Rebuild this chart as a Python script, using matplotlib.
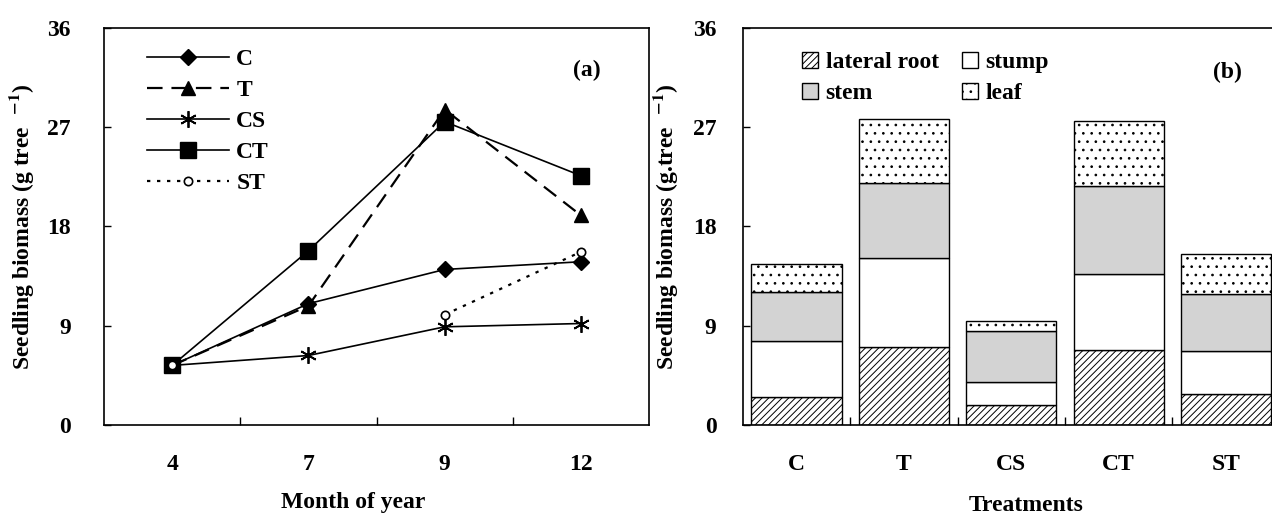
import numpy as np
import matplotlib
matplotlib.use("Agg")
import matplotlib.pyplot as plt

plt.rcParams['font.family'] = ['Liberation Serif', 'DejaVu Serif']
plt.rcParams['font.weight'] = 'bold'
plt.rcParams['axes.labelweight'] = 'bold'
plt.rcParams['mathtext.fontset'] = 'stix'
plt.rcParams['hatch.linewidth'] = 0.7

# panel (a): biomass over time
months = ['4', '7', '9', '12']
line_c = [5.4, 11.0, 14.1, 14.8]
line_t = [5.4, 10.8, 28.6, 19.0]
line_cs = [5.4, 6.3, 8.9, 9.2]
line_ct = [5.4, 15.8, 27.5, 22.6]
line_st = [5.4, np.nan, 10.0, 15.7]

# panel (b): biomass components per treatment
treatments = ['C', 'T', 'CS', 'CT', 'ST']
lateral_root = [2.5, 7.1, 1.8, 6.8, 2.8]
stump = [5.1, 8.0, 2.1, 6.9, 3.9]
stem = [4.5, 6.8, 4.6, 8.0, 5.2]
leaf = [2.5, 5.8, 0.9, 5.9, 3.6]

fs = 17
fig = plt.figure(figsize=(12.72, 5.15), dpi=100)
ax1 = fig.add_axes([0.0818, 0.1748, 0.4285, 0.771])
ax2 = fig.add_axes([0.584, 0.1748, 0.422, 0.771])

# ---- panel (a)
x = np.arange(len(months))
lw = 1.2
ax1.plot(x, line_c, color='black', lw=lw, marker='D', ms=8, label='C')
ax1.plot(x, line_t, color='black', lw=1.6, ls=(0, (7, 4)), marker='^', ms=10, label='T')
ax1.plot(x, line_cs, color='black', lw=lw, marker=(6, 2, 0), ms=12, mew=1.3, label='CS')
ax1.plot(x, line_ct, color='black', lw=lw, marker='s', ms=11, label='CT')
ax1.plot(x, line_st, color='black', lw=1.6, ls=(0, (1.5, 3)), marker='o', ms=6,
         mfc='white', mew=1.2, label='ST')

ax1.set_xlim(-0.5, len(months) - 0.5)
ax1.set_xticks(x)
ax1.set_xticklabels(months)
ax1.set_xticks(x[:-1] + 0.5, minor=True)
ax1.tick_params(axis='x', which='major', length=0, pad=21, labelsize=fs)
ax1.tick_params(axis='x', which='minor', direction='in', length=6, width=1)

ax1.legend(loc='upper left', bbox_to_anchor=(0.078, 0.947), frameon=False,
           fontsize=fs, handlelength=3.5, handletextpad=0.3,
           labelspacing=0.4, borderpad=0, borderaxespad=0)
ax1.text(0.886, 0.894, '(a)', transform=ax1.transAxes, fontsize=fs,
         ha='center', va='center')
ax1.set_xlabel('Month of year', fontsize=fs, va='center')
ax1.xaxis.set_label_coords(0.457, -0.194)
ax1.set_ylabel('Seedling biomass (g tree  $^{\\mathbf{-1}}$)', fontsize=fs, va='center')
ax1.yaxis.set_label_coords(-0.152, 0.5)

# ---- panel (b)
xb = np.arange(len(treatments))
w = 0.84
b1 = np.array(lateral_root)
b2 = b1 + np.array(stump)
b3 = b2 + np.array(stem)
h_root = ax2.bar(xb, lateral_root, w, color='white', edgecolor='black', hatch='/////',
                 lw=1, label='lateral root')
h_stump = ax2.bar(xb, stump, w, bottom=b1, color='white', edgecolor='black', lw=1,
                  label='stump')
h_stem = ax2.bar(xb, stem, w, bottom=b2, color='#d3d3d3', edgecolor='black', lw=1,
                 label='stem')
h_leaf = ax2.bar(xb, leaf, w, bottom=b3, color='white', edgecolor='black', hatch='..',
                 lw=1, label='leaf')

ax2.set_xlim(-0.5, len(treatments) - 0.5)
ax2.set_xticks(xb)
ax2.set_xticklabels(treatments)
ax2.set_xticks(xb[:-1] + 0.5, minor=True)
ax2.tick_params(axis='x', which='major', length=0, pad=21, labelsize=fs)
ax2.tick_params(axis='x', which='minor', direction='in', length=6, width=1)

# legend fills column-wise, so order gives rows: root/stump, stem/leaf
ax2.legend([h_root, h_stem, h_stump, h_leaf], ['lateral root', 'stem', 'stump', 'leaf'],
           loc='upper left', bbox_to_anchor=(0.11, 0.94), frameon=False, ncol=2,
           fontsize=fs, handlelength=0.7, handleheight=0.7, handletextpad=0.3,
           columnspacing=0.98, labelspacing=0.4, borderpad=0, borderaxespad=0)
ax2.text(0.903, 0.889, '(b)', transform=ax2.transAxes, fontsize=fs,
         ha='center', va='center')
ax2.set_xlabel('Treatments', fontsize=fs, va='center')
ax2.xaxis.set_label_coords(0.527, -0.204)
ax2.set_ylabel('Seedling biomass (g.tree  $^{\\mathbf{-1}}$)', fontsize=fs, va='center')
ax2.yaxis.set_label_coords(-0.145, 0.5)

for ax, ypad in ((ax1, 24), (ax2, 19)):
    ax.set_ylim(0, 36)
    ax.set_yticks([0, 9, 18, 27, 36])
    ax.tick_params(axis='y', direction='in', length=5, width=1, pad=ypad, labelsize=fs)
    for s in ax.spines.values():
        s.set_linewidth(1.2)

fig.savefig('out.png', dpi=100)
